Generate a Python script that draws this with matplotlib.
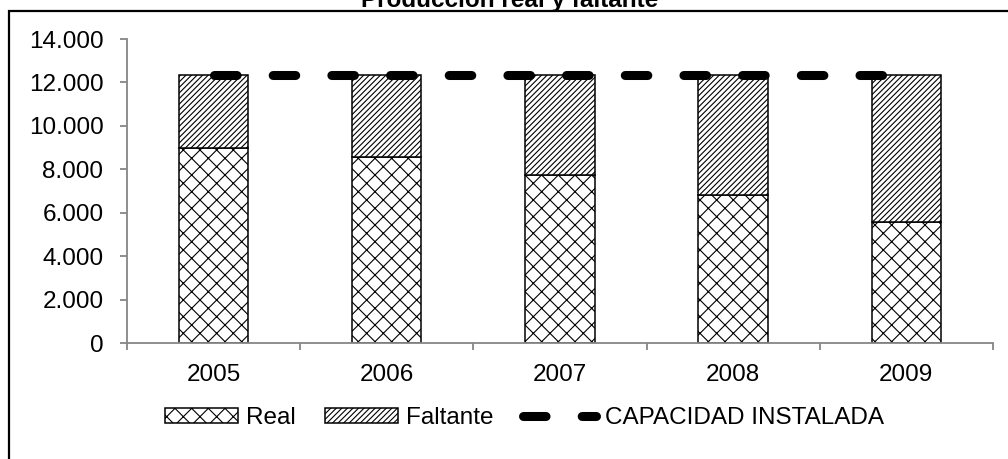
#!/usr/bin/python
"""
Produccion real y faltante: stacked hatched bars with installed capacity line.
"""

import matplotlib
matplotlib.use("Agg")
import matplotlib.pyplot as plt
from matplotlib.patches import Rectangle
from matplotlib.ticker import FuncFormatter

# data
years = ["2005", "2006", "2007", "2008", "2009"]
real = [9000, 8550, 7740, 6820, 5590]
capacidad = [12330, 12330, 12330, 12330, 12330]
faltante = [c - r for c, r in zip(capacidad, real)]

plt.rcParams['font.family'] = ['Liberation Sans', 'DejaVu Sans']
plt.rcParams['hatch.linewidth'] = 0.8
plt.rcParams['hatch.color'] = 'black'

FS = 17.5

fig = plt.figure(figsize=(10.08, 4.59), dpi=100)
ax = fig.add_axes([0.126, 0.2527, 0.859, 0.6623])

# outer frame (right and bottom edges fall outside the picture)
fig.patches.append(Rectangle((9 / 1008, -0.2), 1.2, 1.2 - 11 / 459,
                             transform=fig.transFigure, fill=False,
                             edgecolor='black', linewidth=1.6))

x = range(len(years))
b1 = ax.bar(x, real, width=0.40, color='white', edgecolor='black',
            hatch='xx', linewidth=1.1, label='Real')
b2 = ax.bar(x, faltante, width=0.40, bottom=real, color='white',
            edgecolor='black', hatch='//////', linewidth=1.1,
            label='Faltante')
ln, = ax.plot(x, capacidad, color='black', linewidth=6.5,
              linestyle=(0, (2.5, 4.0)), dash_capstyle='round',
              label='CAPACIDAD INSTALADA')

ax.set_xlim(-0.5, 4.5)
ax.set_ylim(0, 14000)
ax.set_yticks(range(0, 14001, 2000))
ax.yaxis.set_major_formatter(
    FuncFormatter(lambda v, p: "{:,.0f}".format(v).replace(",", ".")))
ax.set_xticks(list(x))
ax.set_xticklabels(years)
ax.set_xticks([i - 0.5 for i in range(len(years) + 1)], minor=True)

for side in ['top', 'right']:
    ax.spines[side].set_visible(False)
for side in ['left', 'bottom']:
    ax.spines[side].set_color('#868686')
    ax.spines[side].set_linewidth(1.3)

ax.tick_params(axis='y', length=5, width=1.3, color='#868686',
               labelsize=FS, pad=12)
ax.tick_params(axis='x', which='major', length=0, labelsize=FS, pad=15)
ax.tick_params(axis='x', which='minor', length=5, width=1.3,
               color='#868686')

fig.text(0.506, 1 - 7 / 459, "Producción real y faltante",
         ha='center', va='baseline', fontsize=FS, fontweight='bold')

ax.legend([b1, b2, ln], ['Real', 'Faltante', 'CAPACIDAD INSTALADA'],
          loc='center', bbox_to_anchor=(0.52, 1 - 418 / 459),
          bbox_transform=fig.transFigure, ncol=3, frameon=False,
          fontsize=FS, handlelength=3.0, handleheight=0.6,
          handletextpad=0.35, columnspacing=1.2, borderpad=0)

fig.savefig("out.png", dpi=100)
